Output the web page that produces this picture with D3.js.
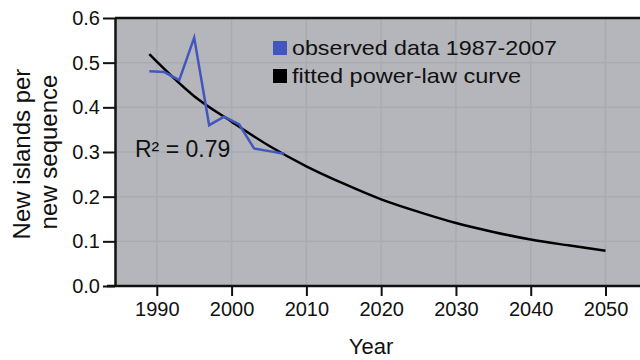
<!DOCTYPE html>
<html>
<head>
<meta charset="utf-8">
<script src="https://cdn.jsdelivr.net/npm/d3@7"></script>
<style>
  body { margin: 0; background: #fff; }
  text { font-family: "Liberation Sans", Arial, sans-serif; fill: #111; }
</style>
</head>
<body>
<div id="container"></div>
<script>
(function() {

// observed data (blue)
let obsYears = [1989, 1991, 1993, 1995, 1997, 1999, 2001, 2003, 2005, 2007];
let obsValues = [0.481, 0.479, 0.461, 0.556, 0.360, 0.379, 0.362, 0.308, 0.302, 0.296];

// fitted power-law curve
let fitYears = [1989, 1995, 2000, 2005, 2010, 2015, 2020, 2025, 2030, 2035, 2040, 2045, 2050];
let fitValues = [0.519, 0.425, 0.368, 0.314, 0.268, 0.229, 0.194, 0.166, 0.141, 0.121, 0.104, 0.091, 0.079];

let xTicks = [1990, 2000, 2010, 2020, 2030, 2040, 2050];
let yTicks = [0.0, 0.1, 0.2, 0.3, 0.4, 0.5, 0.6];

let legendLabels = ["observed data 1987-2007", "fitted power-law curve"];
let legendColors = ["#4257bd", "#000000"];
let yTitleLines = ["New islands per", "new sequence"];

let width = 640, height = 360;
let plot = { left: 115, right: 640, top: 18, bottom: 286 };

let svg = d3.select("#container")
  .append("svg")
    .attr("width", width)
    .attr("height", height);

let x = d3.scaleLinear()
  .domain([1984.41, 2054.61])
  .range([plot.left, plot.right]);
let y = d3.scaleLinear()
  .domain([0, 0.6])
  .range([plot.bottom, plot.top]);

// grey panel
svg.append("rect")
  .attr("x", plot.left)
  .attr("y", plot.top)
  .attr("width", plot.right - plot.left)
  .attr("height", plot.bottom - plot.top)
  .attr("fill", "#b4b6bb");

// grid
svg.append("g")
  .selectAll("line")
  .data(xTicks)
  .enter()
  .append("line")
    .attr("x1", (d) => x(d)).attr("x2", (d) => x(d))
    .attr("y1", plot.top).attr("y2", plot.bottom)
    .attr("stroke", "#a9abb0")
    .attr("stroke-width", 1.5);
svg.append("g")
  .selectAll("line")
  .data(yTicks.slice(1, -1))
  .enter()
  .append("line")
    .attr("x1", plot.left).attr("x2", plot.right)
    .attr("y1", (d) => y(d)).attr("y2", (d) => y(d))
    .attr("stroke", "#a9abb0")
    .attr("stroke-width", 1.5);

// axes
let xAxis = svg.append("g")
  .attr("transform", "translate(0," + plot.bottom + ")")
  .call(d3.axisBottom(x).tickValues(xTicks).tickFormat(d3.format("d"))
    .tickSizeInner(10).tickSizeOuter(0).tickPadding(6));
let yAxis = svg.append("g")
  .attr("transform", "translate(" + plot.left + ",0)")
  .call(d3.axisLeft(y).tickValues(yTicks).tickFormat(d3.format(".1f"))
    .tickSizeInner(12).tickSizeOuter(0).tickPadding(3));

[xAxis, yAxis].forEach((g) => {
  g.select(".domain").attr("stroke", "#111").attr("stroke-width", 2.5);
  g.selectAll(".tick line").attr("stroke", "#111").attr("stroke-width", 2);
  g.selectAll(".tick text")
    .attr("font-size", 20)
    .attr("font-family", "Liberation Sans, Arial, sans-serif")
    .attr("fill", "#111");
});
// bottom axis runs a little past the y axis
xAxis.select(".domain").attr("d", "M" + (plot.left - 8) + ",0H" + plot.right);

// top frame line
svg.append("line")
  .attr("x1", plot.left).attr("x2", plot.right)
  .attr("y1", plot.top).attr("y2", plot.top)
  .attr("stroke", "#111")
  .attr("stroke-width", 2.5);

// fitted curve
let fitLine = d3.line()
  .x((d, i) => x(fitYears[i]))
  .y((d) => y(d))
  .curve(d3.curveMonotoneX);
svg.append("path")
  .attr("d", fitLine(fitValues))
  .attr("fill", "none")
  .attr("stroke", "#000")
  .attr("stroke-width", 2.5);

// observed line
let obsLine = d3.line()
  .x((d, i) => x(obsYears[i]))
  .y((d) => y(d));
svg.append("path")
  .attr("d", obsLine(obsValues))
  .attr("fill", "none")
  .attr("stroke", legendColors[0])
  .attr("stroke-width", 2.5)
  .attr("stroke-linejoin", "miter");

// legend
let legend = svg.append("g")
  .selectAll("g")
  .data(legendLabels)
  .enter()
  .append("g")
    .attr("transform", (d, i) => "translate(273," + (41 + i * 28) + ")");
legend.append("rect")
  .attr("width", 14).attr("height", 14)
  .attr("fill", (d, i) => legendColors[i]);
legend.append("text")
  .attr("x", 19).attr("y", 14)
  .attr("font-size", 21)
  .attr("textLength", (d, i) => i == 0 ? 265 : 229)
  .attr("lengthAdjust", "spacingAndGlyphs")
  .text((d) => d);

// R squared
svg.append("text")
  .attr("x", 135).attr("y", 157)
  .attr("font-size", 23)
  .text("R\u00b2 = 0.79");

// axis titles
svg.append("text")
  .attr("x", 371).attr("y", 354)
  .attr("text-anchor", "middle")
  .attr("font-size", 22)
  .text("Year");
svg.append("g")
  .selectAll("text")
  .data(yTitleLines)
  .enter()
  .append("text")
    .attr("transform", (d, i) => "translate(" + (30 + i * 27) + "," + (154 - i * 2) + ") rotate(-90)")
    .attr("text-anchor", "middle")
    .attr("font-size", 24)
    .text((d) => d);

})();
</script>
</body>
</html>
